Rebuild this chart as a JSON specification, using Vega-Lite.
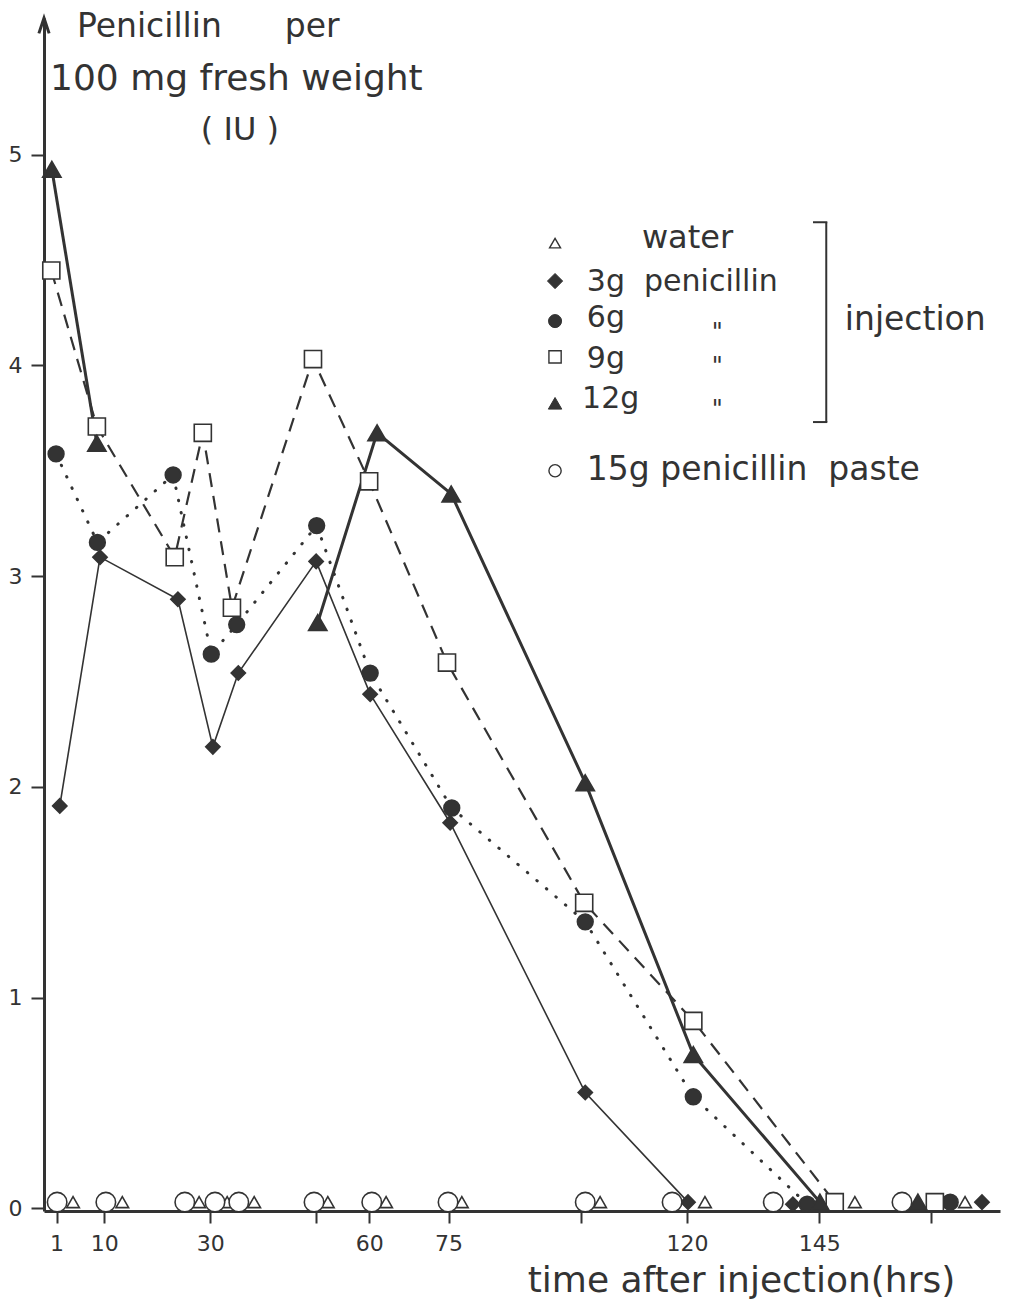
{
  "$schema": "https://vega.github.io/schema/vega-lite/v6.json",
  "width": 956,
  "height": 1193,
  "autosize": {"type": "none"},
  "padding": {"left": 44, "top": 18, "right": 12, "bottom": 92},
  "background": "#ffffff",
  "config": {"view": {"stroke": null}, "font": "DejaVu Sans"},
  "data": {
    "values": [
      {"series": "3g", "t": 1.6, "v": 1.91, "seg": "3g"},
      {"series": "3g", "t": 9.2, "v": 3.09, "seg": "3g"},
      {"series": "3g", "t": 23.9, "v": 2.89, "seg": "3g"},
      {"series": "3g", "t": 30.5, "v": 2.19, "seg": "3g"},
      {"series": "3g", "t": 35.3, "v": 2.54, "seg": "3g"},
      {"series": "3g", "t": 50.0, "v": 3.07, "seg": "3g"},
      {"series": "3g", "t": 60.2, "v": 2.44, "seg": "3g"},
      {"series": "3g", "t": 75.3, "v": 1.83, "seg": "3g"},
      {"series": "3g", "t": 100.8, "v": 0.55, "seg": "3g"},
      {"series": "3g", "t": 120.2, "v": 0.03, "seg": "3g"},
      {"series": "3g", "t": 140.0, "v": 0.02, "seg": null},
      {"series": "3g", "t": 175.7, "v": 0.03, "seg": null},
      {"series": "6g", "t": 0.9, "v": 3.58, "seg": "6g"},
      {"series": "6g", "t": 8.7, "v": 3.16, "seg": "6g"},
      {"series": "6g", "t": 23.0, "v": 3.48, "seg": "6g"},
      {"series": "6g", "t": 30.2, "v": 2.63, "seg": "6g"},
      {"series": "6g", "t": 35.0, "v": 2.77, "seg": "6g"},
      {"series": "6g", "t": 50.1, "v": 3.24, "seg": "6g"},
      {"series": "6g", "t": 60.2, "v": 2.54, "seg": "6g"},
      {"series": "6g", "t": 75.6, "v": 1.9, "seg": "6g"},
      {"series": "6g", "t": 100.8, "v": 1.36, "seg": "6g"},
      {"series": "6g", "t": 121.2, "v": 0.53, "seg": "6g"},
      {"series": "6g", "t": 142.7, "v": 0.02, "seg": "6g"},
      {"series": "6g", "t": 169.7, "v": 0.03, "seg": null},
      {"series": "9g", "t": 0.0, "v": 4.45, "seg": "9g"},
      {"series": "9g", "t": 8.6, "v": 3.71, "seg": "9g"},
      {"series": "9g", "t": 23.3, "v": 3.09, "seg": "9g"},
      {"series": "9g", "t": 28.6, "v": 3.68, "seg": "9g"},
      {"series": "9g", "t": 34.1, "v": 2.85, "seg": "9g"},
      {"series": "9g", "t": 49.4, "v": 4.03, "seg": "9g"},
      {"series": "9g", "t": 60.0, "v": 3.45, "seg": "9g"},
      {"series": "9g", "t": 74.7, "v": 2.59, "seg": "9g"},
      {"series": "9g", "t": 100.6, "v": 1.45, "seg": "9g"},
      {"series": "9g", "t": 121.2, "v": 0.89, "seg": "9g"},
      {"series": "9g", "t": 147.9, "v": 0.03, "seg": "9g"},
      {"series": "9g", "t": 166.8, "v": 0.03, "seg": null},
      {"series": "12g", "t": 0.1, "v": 4.93, "seg": "12g-a"},
      {"series": "12g", "t": 8.6, "v": 3.63, "seg": "12g-a"},
      {"series": "12g", "t": 50.3, "v": 2.78, "seg": "12g-b"},
      {"series": "12g", "t": 61.5, "v": 3.68, "seg": "12g-b"},
      {"series": "12g", "t": 75.5, "v": 3.39, "seg": "12g-b"},
      {"series": "12g", "t": 100.8, "v": 2.02, "seg": "12g-b"},
      {"series": "12g", "t": 121.2, "v": 0.73, "seg": "12g-b"},
      {"series": "12g", "t": 145.1, "v": 0.03, "seg": "12g-b"},
      {"series": "12g", "t": 163.6, "v": 0.03, "seg": null},
      {"series": "water", "t": 4.1, "v": 0.03, "seg": null},
      {"series": "water", "t": 13.4, "v": 0.03, "seg": null},
      {"series": "water", "t": 27.9, "v": 0.03, "seg": null},
      {"series": "water", "t": 33.2, "v": 0.03, "seg": null},
      {"series": "water", "t": 38.3, "v": 0.03, "seg": null},
      {"series": "water", "t": 52.2, "v": 0.03, "seg": null},
      {"series": "water", "t": 63.2, "v": 0.03, "seg": null},
      {"series": "water", "t": 77.5, "v": 0.03, "seg": null},
      {"series": "water", "t": 103.6, "v": 0.03, "seg": null},
      {"series": "water", "t": 123.4, "v": 0.03, "seg": null},
      {"series": "water", "t": 151.7, "v": 0.03, "seg": null},
      {"series": "water", "t": 172.5, "v": 0.03, "seg": null},
      {"series": "paste", "t": 1.1, "v": 0.03, "seg": null},
      {"series": "paste", "t": 10.3, "v": 0.03, "seg": null},
      {"series": "paste", "t": 25.2, "v": 0.03, "seg": null},
      {"series": "paste", "t": 30.9, "v": 0.03, "seg": null},
      {"series": "paste", "t": 35.4, "v": 0.03, "seg": null},
      {"series": "paste", "t": 49.6, "v": 0.03, "seg": null},
      {"series": "paste", "t": 60.5, "v": 0.03, "seg": null},
      {"series": "paste", "t": 74.9, "v": 0.03, "seg": null},
      {"series": "paste", "t": 100.8, "v": 0.03, "seg": null},
      {"series": "paste", "t": 117.2, "v": 0.03, "seg": null},
      {"series": "paste", "t": 136.3, "v": 0.03, "seg": null},
      {"series": "paste", "t": 160.6, "v": 0.03, "seg": null}
    ]
  },
  "layer": [
    {
      "transform": [{"filter": "datum.seg === '3g'"}],
      "mark": {"type": "line", "stroke": "#333333", "strokeWidth": 1.6},
      "encoding": {
        "x": {
          "field": "t", "type": "quantitative",
          "scale": {"domain": [-1.38, 179.1], "nice": false, "zero": false},
          "axis": {
            "values": [1, 10, 30, 50, 60, 75, 100, 120, 145, 166],
            "labelExpr": "indexof([1,10,30,60,75,120,145], datum.value) >= 0 ? datum.label : ''",
            "format": "d", "grid": false,
            "tickSize": 12, "tickWidth": 2, "tickColor": "#333333",
            "domainColor": "#333333", "domainWidth": 3,
            "labelFontSize": 22, "labelColor": "#333333", "labelPadding": 10,
            "labelFlush": false, "labelOverlap": false,
            "title": "time after injection(hrs)",
            "titleFontSize": 36, "titleFontWeight": "normal", "titleColor": "#333333",
            "titleX": 697, "titleY": 80, "titleAlign": "center", "titleBaseline": "alphabetic"
          }
        },
        "y": {
          "field": "v", "type": "quantitative",
          "scale": {"domain": [-0.012, 5.648], "nice": false, "zero": false},
          "axis": {
            "values": [0, 1, 2, 3, 4, 5], "format": "d", "grid": false, "title": null,
            "tickSize": 13, "tickWidth": 2, "tickColor": "#333333",
            "domainColor": "#333333", "domainWidth": 3,
            "labelFontSize": 22, "labelColor": "#333333", "labelPadding": 9
          }
        },
        "detail": {"field": "seg"}
      }
    },
    {
      "transform": [{"filter": "datum.seg === '6g'"}],
      "mark": {"type": "line", "stroke": "#333333", "strokeWidth": 3, "strokeDash": [0.5, 12], "strokeCap": "round"},
      "encoding": {
        "x": {"field": "t", "type": "quantitative"},
        "y": {"field": "v", "type": "quantitative"},
        "detail": {"field": "seg"}
      }
    },
    {
      "transform": [{"filter": "datum.seg === '9g'"}],
      "mark": {"type": "line", "stroke": "#333333", "strokeWidth": 2.2, "strokeDash": [14, 9]},
      "encoding": {
        "x": {"field": "t", "type": "quantitative"},
        "y": {"field": "v", "type": "quantitative"},
        "detail": {"field": "seg"}
      }
    },
    {
      "transform": [{"filter": "datum.seg === '12g-a' || datum.seg === '12g-b'"}],
      "mark": {"type": "line", "stroke": "#333333", "strokeWidth": 3},
      "encoding": {
        "x": {"field": "t", "type": "quantitative"},
        "y": {"field": "v", "type": "quantitative"},
        "detail": {"field": "seg"}
      }
    },
    {
      "mark": {"type": "point", "opacity": 1, "stroke": "#333333", "strokeWidth": 1.6},
      "encoding": {
        "x": {"field": "t", "type": "quantitative"},
        "y": {"field": "v", "type": "quantitative"},
        "shape": {
          "field": "series",
          "scale": {"domain": ["water", "3g", "6g", "9g", "12g", "paste"], "range": ["triangle-up", "diamond", "circle", "square", "triangle-up", "circle"]},
          "legend": null
        },
        "fill": {
          "field": "series",
          "scale": {"domain": ["water", "3g", "6g", "9g", "12g", "paste"], "range": ["#ffffff", "#333333", "#333333", "#ffffff", "#333333", "#ffffff"]},
          "legend": null
        },
        "size": {
          "field": "series",
          "scale": {"domain": ["water", "3g", "6g", "9g", "12g", "paste"], "range": [160, 380, 240, 210, 270, 240]},
          "legend": null
        }
      }
    },
    {
      "data": {"values": [{}]},
      "mark": {"type": "point", "shape": "M -0.5 1.5 L 0 0 L 0.5 1.5", "size": 420, "filled": false, "stroke": "#333333", "strokeWidth": 3, "opacity": 1},
      "encoding": {"x": {"datum": -1.38, "type": "quantitative"}, "y": {"datum": 5.648, "type": "quantitative"}}
    },
    {
      "data": {"values": [{}]},
      "mark": {"type": "text", "text": "Penicillin\u00a0\u00a0\u00a0\u00a0\u00a0\u00a0per", "align": "left", "baseline": "alphabetic", "fontSize": 33, "fill": "#333333"},
      "encoding": {"x": {"datum": 4.85, "type": "quantitative"}, "y": {"datum": 5.557, "type": "quantitative"}}
    },
    {
      "data": {"values": [{}]},
      "mark": {"type": "text", "text": "100 mg fresh weight", "align": "left", "baseline": "alphabetic", "fontSize": 36, "fill": "#333333"},
      "encoding": {"x": {"datum": -0.25, "type": "quantitative"}, "y": {"datum": 5.306, "type": "quantitative"}}
    },
    {
      "data": {"values": [{}]},
      "mark": {"type": "text", "text": "( IU )", "align": "center", "baseline": "alphabetic", "fontSize": 32, "fill": "#333333"},
      "encoding": {"x": {"datum": 35.6, "type": "quantitative"}, "y": {"datum": 5.069, "type": "quantitative"}}
    },
    {
      "data": {"values": [{}]},
      "mark": {"type": "point", "shape": "triangle-up", "size": 120, "fill": "#ffffff", "stroke": "#333333", "strokeWidth": 1.4, "opacity": 1},
      "encoding": {"x": {"datum": 95.1, "type": "quantitative"}, "y": {"datum": 4.58, "type": "quantitative"}}
    },
    {
      "data": {"values": [{}]},
      "mark": {"type": "point", "shape": "diamond", "size": 230, "fill": "#333333", "stroke": "#333333", "strokeWidth": 1, "opacity": 1},
      "encoding": {"x": {"datum": 95.1, "type": "quantitative"}, "y": {"datum": 4.4, "type": "quantitative"}}
    },
    {
      "data": {"values": [{}]},
      "mark": {"type": "point", "shape": "circle", "size": 170, "fill": "#333333", "stroke": "#333333", "strokeWidth": 1, "opacity": 1},
      "encoding": {"x": {"datum": 95.1, "type": "quantitative"}, "y": {"datum": 4.21, "type": "quantitative"}}
    },
    {
      "data": {"values": [{}]},
      "mark": {"type": "point", "shape": "square", "size": 150, "fill": "#ffffff", "stroke": "#333333", "strokeWidth": 1.4, "opacity": 1},
      "encoding": {"x": {"datum": 95.1, "type": "quantitative"}, "y": {"datum": 4.04, "type": "quantitative"}}
    },
    {
      "data": {"values": [{}]},
      "mark": {"type": "point", "shape": "triangle-up", "size": 180, "fill": "#333333", "stroke": "#333333", "strokeWidth": 1, "opacity": 1},
      "encoding": {"x": {"datum": 95.1, "type": "quantitative"}, "y": {"datum": 3.82, "type": "quantitative"}}
    },
    {
      "data": {"values": [{}]},
      "mark": {"type": "point", "shape": "circle", "size": 150, "fill": "#ffffff", "stroke": "#333333", "strokeWidth": 1.4, "opacity": 1},
      "encoding": {"x": {"datum": 95.1, "type": "quantitative"}, "y": {"datum": 3.5, "type": "quantitative"}}
    },
    {
      "data": {"values": [{}]},
      "mark": {"type": "text", "text": "water", "align": "left", "baseline": "alphabetic", "fontSize": 32, "fill": "#333333"},
      "encoding": {"x": {"datum": 111.5, "type": "quantitative"}, "y": {"datum": 4.556, "type": "quantitative"}}
    },
    {
      "data": {"values": [{}]},
      "mark": {"type": "text", "text": "3g\u00a0\u00a0penicillin", "align": "left", "baseline": "alphabetic", "fontSize": 30, "fill": "#333333"},
      "encoding": {"x": {"datum": 101.1, "type": "quantitative"}, "y": {"datum": 4.352, "type": "quantitative"}}
    },
    {
      "data": {"values": [{}]},
      "mark": {"type": "text", "text": "6g", "align": "left", "baseline": "alphabetic", "fontSize": 30, "fill": "#333333"},
      "encoding": {"x": {"datum": 101.1, "type": "quantitative"}, "y": {"datum": 4.18, "type": "quantitative"}}
    },
    {
      "data": {"values": [{}]},
      "mark": {"type": "text", "text": "9g", "align": "left", "baseline": "alphabetic", "fontSize": 30, "fill": "#333333"},
      "encoding": {"x": {"datum": 101.1, "type": "quantitative"}, "y": {"datum": 3.988, "type": "quantitative"}}
    },
    {
      "data": {"values": [{}]},
      "mark": {"type": "text", "text": "12g", "align": "left", "baseline": "alphabetic", "fontSize": 30, "fill": "#333333"},
      "encoding": {"x": {"datum": 100.2, "type": "quantitative"}, "y": {"datum": 3.797, "type": "quantitative"}}
    },
    {
      "data": {"values": [{}]},
      "mark": {"type": "text", "text": "\"", "align": "center", "baseline": "alphabetic", "fontSize": 24, "fill": "#333333"},
      "encoding": {"x": {"datum": 125.7, "type": "quantitative"}, "y": {"datum": 4.12, "type": "quantitative"}}
    },
    {
      "data": {"values": [{}]},
      "mark": {"type": "text", "text": "\"", "align": "center", "baseline": "alphabetic", "fontSize": 24, "fill": "#333333"},
      "encoding": {"x": {"datum": 125.7, "type": "quantitative"}, "y": {"datum": 3.96, "type": "quantitative"}}
    },
    {
      "data": {"values": [{}]},
      "mark": {"type": "text", "text": "\"", "align": "center", "baseline": "alphabetic", "fontSize": 24, "fill": "#333333"},
      "encoding": {"x": {"datum": 125.7, "type": "quantitative"}, "y": {"datum": 3.755, "type": "quantitative"}}
    },
    {
      "data": {"values": [{}]},
      "mark": {"type": "text", "text": "injection", "align": "left", "baseline": "alphabetic", "fontSize": 33, "fill": "#333333"},
      "encoding": {"x": {"datum": 149.8, "type": "quantitative"}, "y": {"datum": 4.167, "type": "quantitative"}}
    },
    {
      "data": {"values": [{}]},
      "mark": {"type": "text", "text": "15g penicillin\u00a0\u00a0paste", "align": "left", "baseline": "alphabetic", "fontSize": 33, "fill": "#333333"},
      "encoding": {"x": {"datum": 101.1, "type": "quantitative"}, "y": {"datum": 3.456, "type": "quantitative"}}
    },
    {
      "data": {"values": [{}]},
      "mark": {"type": "rule", "stroke": "#333333", "strokeWidth": 2},
      "encoding": {"x": {"datum": 146.3, "type": "quantitative"}, "y": {"datum": 4.679, "type": "quantitative"}, "y2": {"datum": 3.731}}
    },
    {
      "data": {"values": [{}]},
      "mark": {"type": "rule", "stroke": "#333333", "strokeWidth": 2},
      "encoding": {"x": {"datum": 143.8, "type": "quantitative"}, "x2": {"datum": 146.5}, "y": {"datum": 4.679, "type": "quantitative"}}
    },
    {
      "data": {"values": [{}]},
      "mark": {"type": "rule", "stroke": "#333333", "strokeWidth": 2},
      "encoding": {"x": {"datum": 143.8, "type": "quantitative"}, "x2": {"datum": 146.5}, "y": {"datum": 3.731, "type": "quantitative"}}
    }
  ]
}
